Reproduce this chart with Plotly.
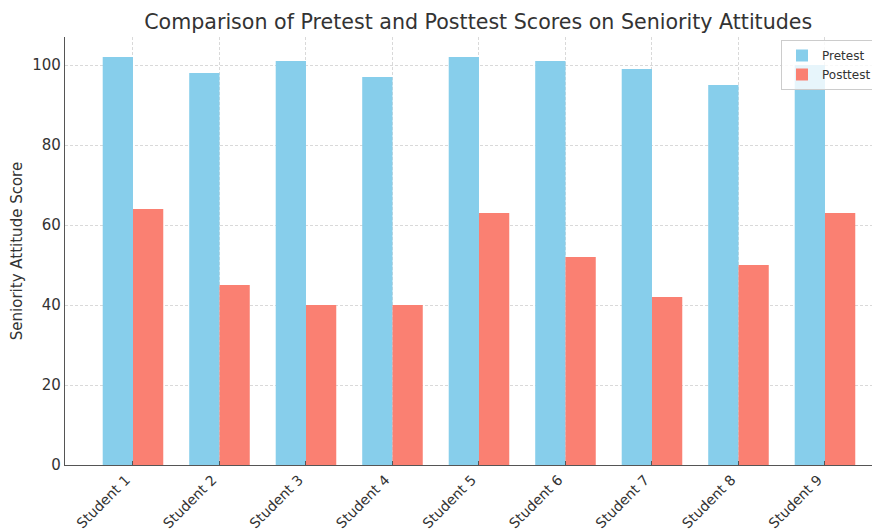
import plotly.graph_objects as go

students = ["Student 1", "Student 2", "Student 3", "Student 4", "Student 5",
            "Student 6", "Student 7", "Student 8", "Student 9"]
pretest = [102, 98, 101, 97, 102, 101, 99, 95, 100]
posttest = [64, 45, 40, 40, 63, 52, 42, 50, 63]

font_family = "DejaVu Sans, Verdana, sans-serif"

fig = go.Figure()
fig.add_trace(go.Bar(x=students, y=pretest, name="Pretest",
                     marker=dict(color="#87CEEB", line=dict(width=0))))
fig.add_trace(go.Bar(x=students, y=posttest, name="Posttest",
                     marker=dict(color="#FA8072", line=dict(width=0))))

fig.update_layout(
    width=872, height=521,
    margin=dict(l=57, r=0, t=29, b=64, autoexpand=False),
    paper_bgcolor="white", plot_bgcolor="white",
    barmode="group", bargap=0.3, bargroupgap=0,
    font=dict(family=font_family, color="#333333"),
    title=dict(text="Comparison of Pretest and Posttest Scores on Seniority Attitudes",
               x=0.507, xref="paper", xanchor="center", y=1 - 14 / 521, yref="container",
               yanchor="middle", automargin=False,
               font=dict(size=20.6, color="#333333")),
    legend=dict(x=0.8785, y=0.993, xanchor="left", yanchor="top",
                bgcolor="rgba(255,255,255,0.8)", bordercolor="#cccccc", borderwidth=1,
                font=dict(size=12, color="#333333"), traceorder="normal",
                itemwidth=30, tracegroupgap=2),
    showlegend=True,
)
fig.update_xaxes(
    range=[-0.786, 8.636], tickangle=-45, automargin=False,
    showgrid=True, gridcolor="#d9d9d9", griddash="3px,2px", gridwidth=1,
    showline=True, linecolor="#555555", linewidth=1.2,
    ticks="inside", ticklen=4, tickcolor="#555555",
    tickfont=dict(size=14, color="#333333"), ticklabelshift=-7,
)
fig.update_yaxes(
    range=[0, 107], tickvals=[0, 20, 40, 60, 80, 100], automargin=False,
    showgrid=True, gridcolor="#d9d9d9", griddash="3px,2px", gridwidth=1,
    showline=True, linecolor="#555555", linewidth=1.2,
    zeroline=False, ticks="",
    tickfont=dict(size=15, color="#333333"),
    title=dict(text="Seniority Attitude Score", font=dict(size=15, color="#333333"), standoff=8),
)

fig.write_html("out.html")
